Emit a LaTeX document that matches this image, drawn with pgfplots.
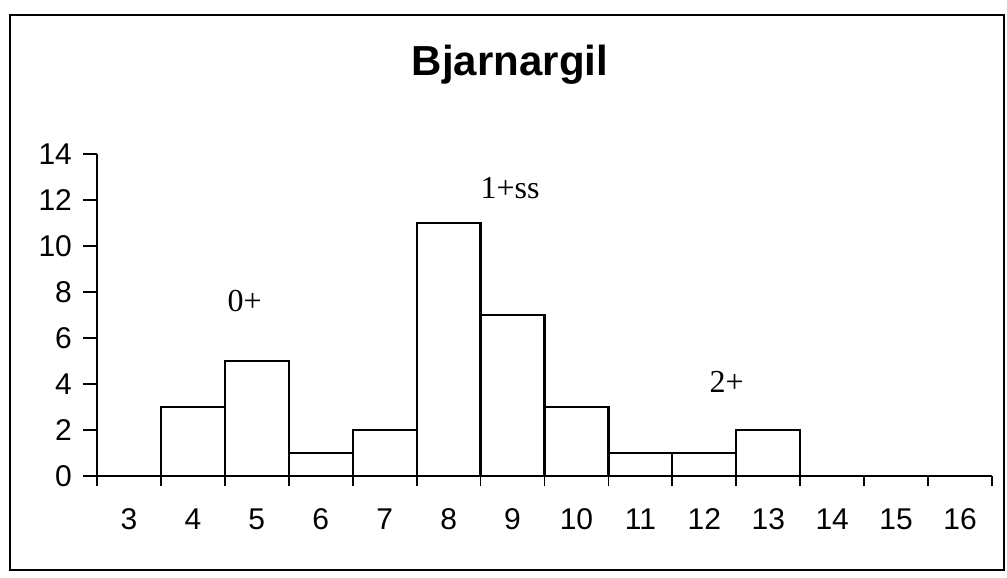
\documentclass[border=0pt]{standalone}
\usepackage{pgfplots}
\pgfplotsset{compat=1.18}
\usepackage{fontspec}
\setmainfont{Liberation Sans}
\newfontfamily\seriffont{Liberation Serif}
\begin{document}
\begin{tikzpicture}
\useasboundingbox (0,0) rectangle (503.5pt,289pt);
\draw[line width=1pt] (5pt,4pt) rectangle (502pt,281.5pt);
\node[font=\fontsize{21}{24}\selectfont\bfseries] at (255pt,256.5pt) {Bjarnargil};
\begin{axis}[
  at={(48.5pt,51pt)}, anchor=south west,
  scale only axis, width=447.5pt, height=161pt,
  xmin=2.5, xmax=16.5, ymin=0, ymax=14,
  axis lines*=left,
  axis line style={line width=1pt},
  tick align=outside,
  xtick={3,...,16},
  minor xtick={2.5,3.5,...,16.5},
  major x tick style={draw=none},
  minor x tick style={line width=0.9pt, black},
  minor tick length=5pt,
  ytick={0,2,...,14},
  y tick style={line width=0.9pt, black},
  major tick length=7pt,
  /pgf/number format/assume math mode=true,
  tick label style={font=\fontsize{15}{17}\selectfont},
  xticklabel style={anchor=center, yshift=-14.5pt},
  yticklabel style={anchor=east, xshift=-2pt},
  clip=false,
]
\addplot[ybar interval, fill=white, draw=black, line width=1.1pt] coordinates {
  (3.5,3) (4.5,5) (5.5,1) (6.5,2) (7.5,11) (8.5,7) (9.5,3) (10.5,1) (11.5,1) (12.5,2) (13.5,0)
};
\node[font=\seriffont\fontsize{16}{19}\selectfont] at (axis cs:4.81,7.6) {0+};
\node[font=\seriffont\fontsize{16}{19}\selectfont] at (axis cs:8.96,12.5) {1+ss};
\node[font=\seriffont\fontsize{16}{19}\selectfont] at (axis cs:12.35,4.1) {2+};
\end{axis}
\end{tikzpicture}
\end{document}
